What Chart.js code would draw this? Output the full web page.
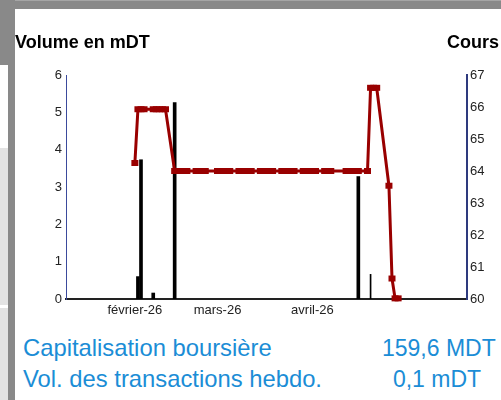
<!DOCTYPE html>
<html>
<head>
<meta charset="utf-8">
<script src="https://cdn.jsdelivr.net/npm/chart.js@4.4.1/dist/chart.umd.min.js"></script>
<style>
  body { margin: 0; width: 501px; height: 400px; overflow: hidden; background: #fff; position: relative;
         font-family: "Liberation Sans", Arial, sans-serif; }
  .gris { position: absolute; background: #898989; }
  .clair { position: absolute; background: #e3e3e3; }
  #wrap { position: absolute; left: 15px; top: 9px; width: 486px; height: 311px; }
  .titreAxe { position: absolute; top: 33px; font-size: 18px; line-height: 18px; font-weight: bold; color: #000; white-space: nowrap; }
  .info { position: absolute; font-size: 23px; line-height: 23px; color: #1b8dd6; white-space: nowrap; }
  .lib { font-size: 23.8px; }
</style>
</head>
<body>
<div class="gris" style="left:0;top:0;width:501px;height:9px;border-top:1px solid #a5a5a5;box-sizing:border-box"></div>
<div class="gris" style="left:8px;top:0;width:7px;height:400px"></div>
<div class="gris" style="left:0;top:0;width:8px;height:65px"></div>
<div class="clair" style="left:0;top:148px;width:8px;height:157px"></div>
<div class="clair" style="left:0;top:308px;width:8px;height:92px"></div>

<div id="wrap"><canvas id="coursChart"></canvas></div>

<div class="titreAxe" style="left:15px">Volume en mDT</div>
<div class="titreAxe" style="left:447px">Cours</div>

<div class="info lib" style="left:23px;top:336px">Capitalisation boursière</div>
<div class="info lib" style="left:23px;top:367px">Vol. des transactions hebdo.</div>
<div class="info" style="left:382px;top:337px;width:110px;text-align:center">159,6 MDT</div>
<div class="info" style="left:382px;top:368px;width:110px;text-align:center">0,1 mDT</div>

<script>
// jours comptés depuis le 1er janvier 2026 (0 = 1er janvier)

// volumes par séance (mDT)
const volJours = [34, 35, 39, 46, 106];
const volumes = [0.6, 3.73, 0.16, 5.26, 3.28];
// dernière séance, barre fine
const volJoursFin = [110];
const volumesFin = [0.66];

// cours de clôture
const coursJours = [
  33, 34, 35, 36, 39, 40, 41, 42, 43,
  46, 47, 48, 49, 50, 53, 54, 55, 56,
  60, 61, 62, 63, 64, 67, 68, 69, 70, 71,
  74, 75, 76, 77, 78, 81, 82, 83, 84, 85,
  88, 89, 90, 91, 92, 95, 96, 97,
  102, 103, 104, 105, 106, 109,
  110, 111, 112, 116, 117, 118, 119
];
const cours = [
  64.25, 65.93, 65.93, 65.93, 65.93, 65.93, 65.93, 65.93, 65.93,
  64, 64, 64, 64, 64, 64, 64, 64, 64,
  64, 64, 64, 64, 64, 64, 64, 64, 64, 64,
  64, 64, 64, 64, 64, 64, 64, 64, 64, 64,
  64, 64, 64, 64, 64, 64, 64, 64,
  64, 64, 64, 64, 64, 64,
  66.6, 66.6, 66.6, 63.54, 60.64, 60.02, 60.02
];

// étiquettes de l'axe des dates
const moisJours = [33, 60, 91];
const moisLabels = ['février-26', 'mars-26', 'avril-26'];

const police = { family: '"Liberation Sans", Arial, sans-serif', size: 13 };

const pts = (jours, vals) => jours.map((j, i) => ({ x: j, y: vals[i] }));

new Chart(document.querySelector('#coursChart'), {
  type: 'bar',
  data: {
    datasets: [
      {
        type: 'line',
        data: pts(coursJours, cours),
        yAxisID: 'yCours',
        borderColor: '#990000',
        borderWidth: 3,
        pointStyle: 'line',
        pointRadius: 3.5,
        pointBorderWidth: 6,
        pointBorderColor: '#990000',
        pointBackgroundColor: '#990000',
        tension: 0,
        clip: false,
        order: 0
      },
      {
        data: pts(volJours, volumes),
        yAxisID: 'yVol',
        backgroundColor: '#000',
        barThickness: 3,
        grouped: false,
        order: 1
      },
      {
        data: pts(volJoursFin, volumesFin),
        yAxisID: 'yVol',
        backgroundColor: '#000',
        barThickness: 1,
        grouped: false,
        order: 1
      }
    ]
  },
  options: {
    responsive: true,
    maintainAspectRatio: false,
    animation: false,
    layout: { padding: { top: 66, left: 0, right: 0, bottom: 0 } },
    plugins: { legend: { display: false }, tooltip: { enabled: false } },
    scales: {
      x: {
        type: 'linear',
        min: 10.5,
        max: 141.5,
        offset: false,
        grid: { display: false, drawTicks: false, tickLength: 0 },
        border: { color: '#222', width: 2 },
        ticks: {
          font: police, color: '#222', padding: 4, maxRotation: 0, autoSkip: false,
          callback: (v, i) => moisLabels[i]
        },
        afterBuildTicks: s => { s.ticks = moisJours.map(v => ({ value: v })); },
        afterFit: s => { s.height = 21; }
      },
      yVol: {
        position: 'left',
        min: 0,
        max: 6,
        grid: { display: false, drawTicks: false, tickLength: 0 },
        border: { color: '#3b4a9c', width: 1 },
        ticks: { stepSize: 1, font: police, color: '#222', padding: 4 },
        afterFit: s => { s.width = 51; }
      },
      yCours: {
        position: 'right',
        min: 60,
        max: 67,
        grid: { display: false, drawTicks: false, tickLength: 0 },
        border: { color: '#2e3a7e', width: 2 },
        ticks: { stepSize: 1, font: police, color: '#222', padding: 3 },
        afterFit: s => { s.width = 34; }
      }
    }
  }
});
</script>
</body>
</html>
